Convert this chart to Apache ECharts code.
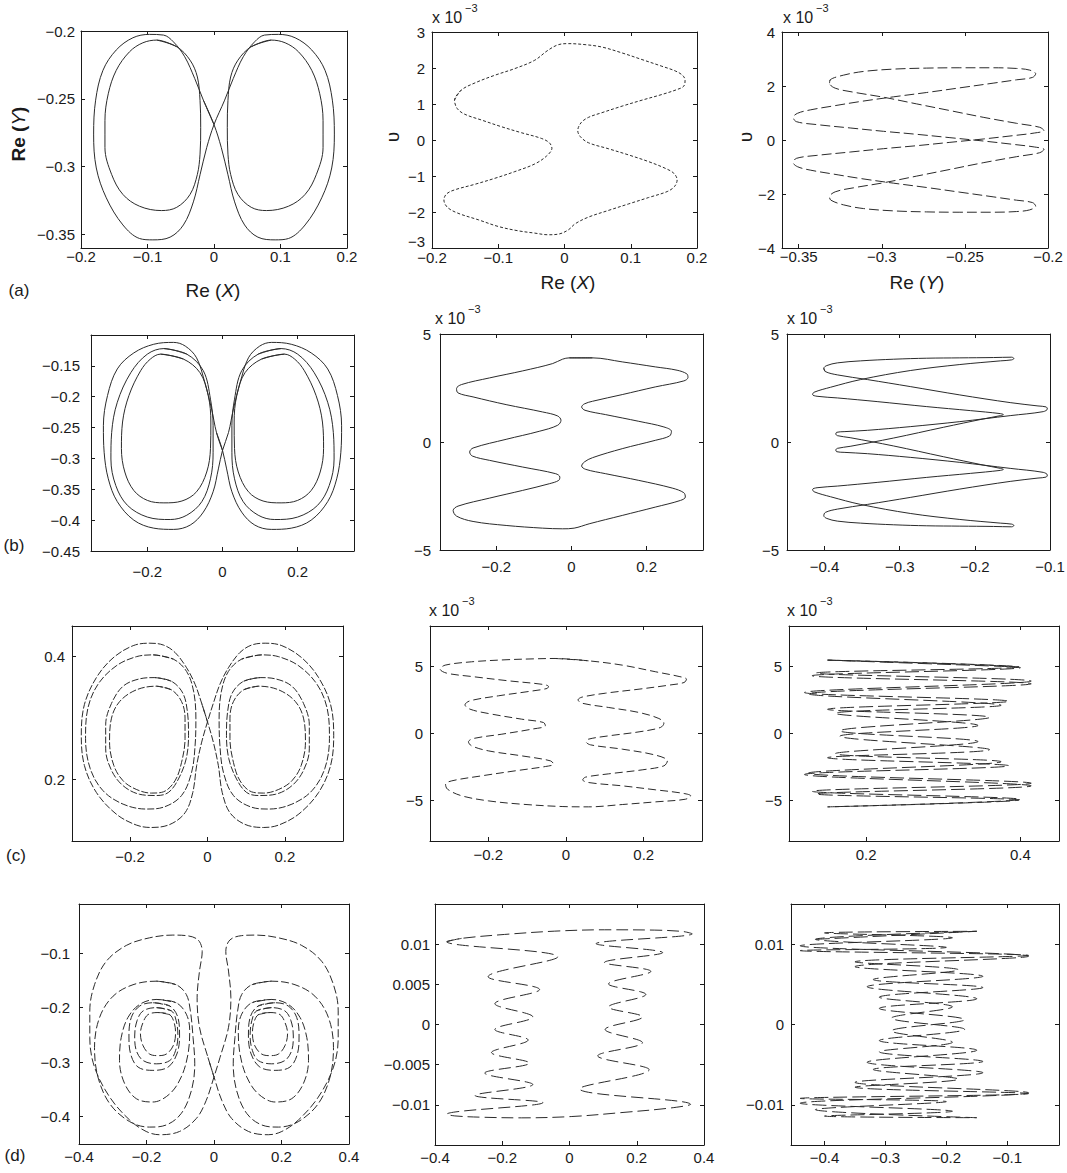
<!DOCTYPE html>
<html>
<head>
<meta charset="utf-8">
<script src="https://cdn.jsdelivr.net/npm/echarts@6/dist/echarts.min.js"></script>
<style>
  html, body { margin: 0; padding: 0; background: #fff; }
  #chart { width: 1067px; height: 1173px; }
</style>
</head>
<body>
<div id="chart"></div>
<script>
// ---------------- axis ranges and ticks ----------------
const a1XRange = [-0.2, 0.2],   a1YRange = [-0.36, -0.2];
const a2XRange = [-0.2, 0.2],   a2YRange = [-3, 3];
const a3XRange = [-0.36, -0.2], a3YRange = [-4, 4];
const b1XRange = [-0.35, 0.35], b1YRange = [-0.45, -0.1];
const b2XRange = [-0.35, 0.35], b2YRange = [-5, 5];
const b3XRange = [-0.45, -0.1], b3YRange = [-5, 5];
const c1XRange = [-0.35, 0.35], c1YRange = [0.1, 0.45];
const c2XRange = [-0.35, 0.35], c2YRange = [-8, 8];
const c3XRange = [0.1, 0.45],   c3YRange = [-8, 8];
const d1XRange = [-0.4, 0.4],   d1YRange = [-0.45, -0.01];
const d2XRange = [-0.4, 0.4],   d2YRange = [-0.015, 0.015];
const d3XRange = [-0.455, -0.015], d3YRange = [-0.015, 0.015];

const a1XTicks = [-0.2, -0.1, 0, 0.1, 0.2],  a1YTicks = [-0.35, -0.3, -0.25, -0.2];
const a2XTicks = [-0.2, -0.1, 0, 0.1, 0.2],  a2YTicks = [-3, -2, -1, 0, 1, 2, 3];
const a3XTicks = [-0.35, -0.3, -0.25, -0.2], a3YTicks = [-4, -2, 0, 2, 4];
const b1XTicks = [-0.2, 0, 0.2], b1YTicks = [-0.45, -0.4, -0.35, -0.3, -0.25, -0.2, -0.15];
const b2XTicks = [-0.2, 0, 0.2], b2YTicks = [-5, 0, 5];
const b3XTicks = [-0.4, -0.3, -0.2, -0.1], b3YTicks = [-5, 0, 5];
const c1XTicks = [-0.2, 0, 0.2], c1YTicks = [0.2, 0.4];
const c2XTicks = [-0.2, 0, 0.2], c2YTicks = [-5, 0, 5];
const c3XTicks = [0.2, 0.4],     c3YTicks = [-5, 0, 5];
const d1XTicks = [-0.4, -0.2, 0, 0.2, 0.4], d1YTicks = [-0.4, -0.3, -0.2, -0.1];
const d2XTicks = [-0.4, -0.2, 0, 0.2, 0.4], d2YTicks = [-0.01, -0.005, 0, 0.005, 0.01];
const d3XTicks = [-0.4, -0.3, -0.2, -0.1],  d3YTicks = [-0.01, 0, 0.01];

// ---------------- (a) trajectories ----------------
const a1Figure8 = [[0,-0.269],[-0.016,-0.251],[-0.029,-0.235],[-0.044,-0.219],[-0.061,-0.208],[-0.076,-0.203],[-0.097,-0.2025],[-0.122,-0.205],[-0.147,-0.214],[-0.167,-0.229],[-0.178,-0.251],[-0.181,-0.276],[-0.177,-0.301],[-0.162,-0.323],[-0.137,-0.343],[-0.112,-0.353],[-0.092,-0.354],[-0.066,-0.352],[-0.046,-0.343],[-0.031,-0.326],[-0.021,-0.306],[-0.011,-0.286],[0,-0.269],
  [0.016,-0.251],[0.029,-0.235],[0.044,-0.219],[0.061,-0.208],[0.076,-0.203],[0.097,-0.2025],[0.122,-0.205],[0.147,-0.214],[0.167,-0.229],[0.178,-0.251],[0.181,-0.276],[0.177,-0.301],[0.162,-0.323],[0.137,-0.343],[0.112,-0.353],[0.092,-0.354],[0.066,-0.352],[0.046,-0.343],[0.031,-0.326],[0.021,-0.306],[0.011,-0.286],[0,-0.269]];
const a1InnerLeft = [[-0.086,-0.2067],[-0.056,-0.2116],[-0.036,-0.2215],[-0.025,-0.2339],[-0.021,-0.2512],[-0.020,-0.271],[-0.021,-0.2908],[-0.025,-0.3057],[-0.036,-0.3205],[-0.056,-0.33],[-0.079,-0.3324],[-0.112,-0.3292],[-0.137,-0.3205],[-0.154,-0.3057],[-0.164,-0.2859],[-0.164,-0.2661],[-0.159,-0.2463],[-0.147,-0.229],[-0.127,-0.2153],[-0.107,-0.2087],[-0.086,-0.2067]];
const a1InnerRight = [[0.086,-0.2067],[0.056,-0.2116],[0.036,-0.2215],[0.025,-0.2339],[0.021,-0.2512],[0.020,-0.271],[0.021,-0.2908],[0.025,-0.3057],[0.036,-0.3205],[0.056,-0.33],[0.079,-0.3324],[0.112,-0.3292],[0.137,-0.3205],[0.154,-0.3057],[0.164,-0.2859],[0.164,-0.2661],[0.159,-0.2463],[0.147,-0.229],[0.127,-0.2153],[0.107,-0.2087],[0.086,-0.2067]];

const a2Orbit = [[-0.166,1.107],[-0.156,1.384],[-0.135,1.587],[-0.105,1.800],[-0.075,1.984],[-0.045,2.215],[-0.025,2.492],[-0.009,2.649],[0.006,2.677],[0.031,2.649],[0.056,2.584],[0.087,2.418],[0.117,2.234],[0.147,2.049],[0.167,1.920],[0.178,1.800],[0.182,1.661],[0.180,1.495],[0.170,1.403],[0.147,1.264],[0.117,1.107],[0.087,0.941],[0.056,0.756],[0.036,0.627],[0.025,0.479],[0.020,0.258],[0.024,0.091],[0.036,-0.075],[0.066,-0.241],[0.097,-0.416],[0.127,-0.601],[0.152,-0.786],[0.165,-0.924],[0.170,-1.109],[0.166,-1.294],[0.155,-1.432],[0.127,-1.598],[0.097,-1.774],[0.066,-1.958],[0.036,-2.143],[0.016,-2.328],[0.006,-2.494],[-0.009,-2.614],[-0.025,-2.632],[-0.045,-2.586],[-0.070,-2.522],[-0.100,-2.402],[-0.130,-2.217],[-0.161,-2.032],[-0.177,-1.866],[-0.182,-1.663],[-0.178,-1.497],[-0.166,-1.386],[-0.135,-1.229],[-0.105,-1.063],[-0.075,-0.878],[-0.045,-0.666],[-0.027,-0.444],[-0.019,-0.232],[-0.023,-0.075],[-0.035,0.045],[-0.065,0.202],[-0.095,0.368],[-0.125,0.553],[-0.151,0.719],[-0.162,0.876],[-0.166,1.107]];

const a3Orbit = [[-0.3314,2.105],[-0.331,2.229],[-0.323,2.402],[-0.311,2.539],[-0.293,2.625],[-0.273,2.663],[-0.253,2.675],[-0.233,2.675],[-0.219,2.650],[-0.211,2.588],[-0.2074,2.452],
  [-0.2094,2.316],[-0.219,2.229],[-0.233,2.105],[-0.253,1.932],[-0.273,1.759],[-0.293,1.598],[-0.313,1.424],[-0.329,1.263],[-0.343,1.115],[-0.3506,0.991],[-0.3532,0.842],
  [-0.3514,0.681],[-0.339,0.570],[-0.319,0.446],[-0.299,0.322],[-0.279,0.211],[-0.259,0.087],[-0.239,-0.037],[-0.221,-0.161],[-0.208,-0.260],[-0.2024,-0.347],
  [-0.205,-0.471],[-0.219,-0.619],[-0.239,-0.842],[-0.259,-1.090],[-0.279,-1.337],[-0.299,-1.585],[-0.317,-1.771],[-0.328,-1.920],[-0.3314,-2.105],
  [-0.3306,-2.229],[-0.323,-2.402],[-0.311,-2.539],[-0.293,-2.625],[-0.273,-2.663],[-0.253,-2.675],[-0.233,-2.675],[-0.219,-2.650],[-0.211,-2.588],[-0.2074,-2.452],
  [-0.2094,-2.316],[-0.219,-2.229],[-0.233,-2.105],[-0.253,-1.932],[-0.273,-1.759],[-0.293,-1.598],[-0.313,-1.424],[-0.329,-1.263],[-0.343,-1.115],[-0.3506,-0.991],[-0.3532,-0.842],
  [-0.3514,-0.681],[-0.339,-0.570],[-0.319,-0.446],[-0.299,-0.322],[-0.279,-0.211],[-0.259,-0.087],[-0.239,0.037],[-0.221,0.161],[-0.208,0.260],[-0.2024,0.347],
  [-0.205,0.471],[-0.219,0.619],[-0.239,0.842],[-0.259,1.090],[-0.279,1.337],[-0.299,1.585],[-0.317,1.771],[-0.328,1.920],[-0.3314,2.105]];

// ---------------- (b) trajectories ----------------
const b1Figure8 = [[0,-0.287],[-0.016,-0.258],[-0.029,-0.220],[-0.047,-0.177],[-0.069,-0.137],[-0.099,-0.118],[-0.130,-0.112],[-0.183,-0.115],[-0.236,-0.129],[-0.280,-0.155],[-0.306,-0.198],[-0.317,-0.247],[-0.315,-0.290],[-0.304,-0.333],[-0.280,-0.370],[-0.236,-0.400],[-0.183,-0.413],[-0.130,-0.415],[-0.086,-0.408],[-0.051,-0.387],[-0.025,-0.354],[-0.011,-0.317],[0,-0.287],
  [0.016,-0.258],[0.029,-0.220],[0.047,-0.177],[0.069,-0.137],[0.099,-0.118],[0.130,-0.112],[0.183,-0.115],[0.236,-0.129],[0.280,-0.155],[0.306,-0.198],[0.317,-0.247],[0.315,-0.290],[0.304,-0.333],[0.280,-0.370],[0.236,-0.400],[0.183,-0.413],[0.130,-0.415],[0.086,-0.408],[0.051,-0.387],[0.025,-0.354],[0.011,-0.317],[0,-0.287]];
const b1MiddleLeft = [[-0.156,-0.122],[-0.095,-0.131],[-0.051,-0.158],[-0.032,-0.204],[-0.025,-0.247],[-0.025,-0.290],[-0.032,-0.333],[-0.055,-0.370],[-0.095,-0.392],[-0.139,-0.399],[-0.200,-0.395],[-0.253,-0.376],[-0.284,-0.344],[-0.297,-0.301],[-0.295,-0.258],[-0.280,-0.209],[-0.244,-0.161],[-0.200,-0.131],[-0.156,-0.122]];
const b1MiddleRight = [[0.156,-0.122],[0.095,-0.131],[0.051,-0.158],[0.032,-0.204],[0.025,-0.247],[0.025,-0.290],[0.032,-0.333],[0.055,-0.370],[0.095,-0.392],[0.139,-0.399],[0.200,-0.395],[0.253,-0.376],[0.284,-0.344],[0.297,-0.301],[0.295,-0.258],[0.280,-0.209],[0.244,-0.161],[0.200,-0.131],[0.156,-0.122]];
const b1InnerLeft = [[-0.165,-0.131],[-0.104,-0.139],[-0.060,-0.161],[-0.038,-0.198],[-0.031,-0.241],[-0.032,-0.284],[-0.042,-0.322],[-0.069,-0.354],[-0.108,-0.369],[-0.156,-0.372],[-0.200,-0.368],[-0.236,-0.352],[-0.260,-0.322],[-0.269,-0.284],[-0.266,-0.241],[-0.249,-0.198],[-0.218,-0.158],[-0.192,-0.139],[-0.165,-0.131]];
const b1InnerRight = [[0.165,-0.131],[0.104,-0.139],[0.060,-0.161],[0.038,-0.198],[0.031,-0.241],[0.032,-0.284],[0.042,-0.322],[0.069,-0.354],[0.108,-0.369],[0.156,-0.372],[0.200,-0.368],[0.236,-0.352],[0.260,-0.322],[0.269,-0.284],[0.266,-0.241],[0.249,-0.198],[0.218,-0.158],[0.192,-0.139],[0.165,-0.131]];

const b2Orbit = [[-0.006,3.895],[0.056,3.895],[0.135,3.709],[0.223,3.478],[0.281,3.323],[0.307,3.153],[0.310,2.983],[0.299,2.828],[0.223,2.550],[0.135,2.195],[0.056,1.886],[0.034,1.762],[0.027,1.623],[0.036,1.468],[0.091,1.267],[0.179,0.958],[0.246,0.696],[0.266,0.495],[0.261,0.278],[0.223,0.077],[0.135,-0.309],[0.056,-0.726],[0.034,-0.927],[0.027,-1.113],[0.038,-1.267],[0.091,-1.468],[0.179,-1.777],[0.268,-2.133],[0.299,-2.349],[0.303,-2.550],[0.290,-2.705],[0.223,-3.014],[0.135,-3.400],[0.047,-3.787],[0.007,-3.988],[-0.024,-4.019],[-0.077,-3.988],[-0.174,-3.864],[-0.262,-3.679],[-0.306,-3.431],[-0.315,-3.168],[-0.302,-2.968],[-0.218,-2.597],[-0.130,-2.241],[-0.059,-1.932],[-0.034,-1.777],[-0.031,-1.623],[-0.042,-1.468],[-0.130,-1.159],[-0.218,-0.850],[-0.264,-0.649],[-0.271,-0.464],[-0.262,-0.278],[-0.174,0.124],[-0.086,0.495],[-0.037,0.773],[-0.028,1.005],[-0.037,1.206],[-0.077,1.391],[-0.174,1.731],[-0.262,2.087],[-0.302,2.272],[-0.306,2.473],[-0.293,2.658],[-0.218,2.968],[-0.130,3.292],[-0.050,3.632],[-0.024,3.833],[-0.006,3.895]];

const b3Orbit = [[-0.401,3.416],[-0.399,3.261],[-0.383,3.107],[-0.343,2.890],[-0.286,2.566],[-0.220,2.179],[-0.153,1.824],[-0.116,1.669],[-0.105,1.623],[-0.1035,1.530],
  [-0.109,1.406],[-0.153,1.221],[-0.220,0.943],[-0.286,0.711],[-0.343,0.541],[-0.374,0.479],[-0.384,0.448],[-0.385,0.371],
  [-0.383,0.294],[-0.366,0.201],[-0.308,-0.185],[-0.242,-0.680],[-0.189,-1.066],[-0.166,-1.221],[-0.162,-1.267],
  [-0.166,-1.314],[-0.206,-1.453],[-0.264,-1.638],[-0.330,-1.870],[-0.383,-2.040],[-0.410,-2.117],[-0.416,-2.195],
  [-0.414,-2.303],[-0.392,-2.535],[-0.352,-2.890],[-0.286,-3.308],[-0.220,-3.586],[-0.166,-3.756],[-0.151,-3.802],[-0.148,-3.864],
  [-0.151,-3.926],[-0.175,-3.910],[-0.220,-3.895],[-0.264,-3.879],[-0.308,-3.833],[-0.352,-3.756],[-0.383,-3.663],[-0.397,-3.539],[-0.401,-3.416],
  [-0.399,-3.261],[-0.383,-3.107],[-0.343,-2.890],[-0.286,-2.566],[-0.220,-2.179],[-0.153,-1.824],[-0.116,-1.669],[-0.105,-1.623],[-0.1035,-1.530],
  [-0.109,-1.406],[-0.153,-1.221],[-0.220,-0.943],[-0.286,-0.711],[-0.343,-0.541],[-0.374,-0.479],[-0.384,-0.448],[-0.385,-0.371],
  [-0.383,-0.294],[-0.366,-0.201],[-0.308,0.185],[-0.242,0.680],[-0.189,1.066],[-0.166,1.221],[-0.162,1.267],
  [-0.166,1.314],[-0.206,1.453],[-0.264,1.638],[-0.330,1.870],[-0.383,2.040],[-0.410,2.117],[-0.416,2.195],
  [-0.414,2.303],[-0.392,2.535],[-0.352,2.890],[-0.286,3.308],[-0.220,3.586],[-0.166,3.756],[-0.151,3.802],[-0.148,3.864],
  [-0.151,3.926],[-0.175,3.910],[-0.220,3.895],[-0.264,3.879],[-0.308,3.833],[-0.352,3.756],[-0.383,3.663],[-0.397,3.539],[-0.401,3.416]];

// ---------------- (c) trajectories ----------------
const c1Figure8 = [[0,0.294],[-0.015,0.324],[-0.032,0.355],[-0.054,0.382],[-0.084,0.407],[-0.114,0.419],[-0.149,0.422],[-0.192,0.418],[-0.244,0.398],[-0.287,0.366],[-0.318,0.322],[-0.326,0.272],[-0.318,0.223],[-0.287,0.179],[-0.236,0.144],[-0.184,0.126],[-0.145,0.122],[-0.097,0.127],[-0.058,0.146],[-0.038,0.179],[-0.028,0.223],[-0.015,0.261],[0,0.294],
  [0.015,0.324],[0.032,0.355],[0.054,0.382],[0.084,0.407],[0.114,0.419],[0.149,0.422],[0.192,0.418],[0.244,0.398],[0.287,0.366],[0.318,0.322],[0.326,0.272],[0.318,0.223],[0.287,0.179],[0.236,0.144],[0.184,0.126],[0.145,0.122],[0.097,0.127],[0.058,0.146],[0.038,0.179],[0.028,0.223],[0.015,0.261],[0,0.294]];
const c1LoopBLeft = [[-0.140,0.403],[-0.088,0.396],[-0.054,0.376],[-0.036,0.344],[-0.030,0.300],[-0.032,0.256],[-0.041,0.212],[-0.067,0.174],[-0.114,0.155],[-0.158,0.152],[-0.218,0.160],[-0.270,0.182],[-0.303,0.218],[-0.315,0.267],[-0.309,0.316],[-0.283,0.355],[-0.236,0.385],[-0.184,0.400],[-0.140,0.403]];
const c1LoopBRight = [[0.140,0.403],[0.088,0.396],[0.054,0.376],[0.036,0.344],[0.030,0.300],[0.032,0.256],[0.041,0.212],[0.067,0.174],[0.114,0.155],[0.158,0.152],[0.218,0.160],[0.270,0.182],[0.303,0.218],[0.315,0.267],[0.309,0.316],[0.283,0.355],[0.236,0.385],[0.184,0.400],[0.140,0.403]];
const c1LoopCLeft = [[-0.136,0.366],[-0.093,0.360],[-0.064,0.341],[-0.052,0.311],[-0.049,0.272],[-0.055,0.234],[-0.075,0.201],[-0.101,0.179],[-0.132,0.174],[-0.175,0.176],[-0.218,0.190],[-0.248,0.215],[-0.263,0.250],[-0.263,0.289],[-0.248,0.324],[-0.218,0.352],[-0.175,0.364],[-0.136,0.366]];
const c1LoopCRight = [[0.136,0.366],[0.093,0.360],[0.064,0.341],[0.052,0.311],[0.049,0.272],[0.055,0.234],[0.075,0.201],[0.101,0.179],[0.132,0.174],[0.175,0.176],[0.218,0.190],[0.248,0.215],[0.263,0.250],[0.263,0.289],[0.248,0.324],[0.218,0.352],[0.175,0.364],[0.136,0.366]];
const c1LoopDLeft = [[-0.132,0.352],[-0.093,0.346],[-0.067,0.327],[-0.058,0.300],[-0.058,0.267],[-0.067,0.228],[-0.084,0.198],[-0.114,0.180],[-0.145,0.178],[-0.184,0.184],[-0.218,0.198],[-0.242,0.223],[-0.253,0.261],[-0.248,0.300],[-0.227,0.327],[-0.184,0.346],[-0.132,0.352]];
const c1LoopDRight = [[0.132,0.352],[0.093,0.346],[0.067,0.327],[0.058,0.300],[0.058,0.267],[0.067,0.228],[0.084,0.198],[0.114,0.180],[0.145,0.178],[0.184,0.184],[0.218,0.198],[0.242,0.223],[0.253,0.261],[0.248,0.300],[0.227,0.327],[0.184,0.346],[0.132,0.352]];

const c2Orbit = [[-0.028,5.583],[0.058,5.409],[0.145,5.087],[0.231,4.591],[0.291,4.243],[0.310,4.045],[0.304,3.797],[0.265,3.598],[0.188,3.300],[0.102,3.002],[0.041,2.705],[0.031,2.506],[0.041,2.258],[0.110,1.935],[0.188,1.563],[0.239,1.117],[0.252,0.769],[0.243,0.447],[0.188,0.124],[0.110,-0.174],[0.058,-0.422],[0.052,-0.620],[0.063,-0.844],[0.145,-1.166],[0.231,-1.613],[0.261,-2.035],[0.252,-2.407],[0.196,-2.705],[0.110,-3.002],[0.050,-3.251],[0.043,-3.449],[0.058,-3.648],[0.145,-3.896],[0.231,-4.194],[0.299,-4.442],[0.321,-4.640],[0.308,-4.888],[0.231,-5.087],[0.145,-5.285],[0.058,-5.459],[-0.010,-5.434],[-0.114,-5.261],[-0.200,-5.012],[-0.268,-4.640],[-0.305,-4.144],[-0.310,-3.772],[-0.294,-3.524],[-0.217,-3.151],[-0.131,-2.779],[-0.053,-2.457],[-0.032,-2.283],[-0.040,-2.035],[-0.114,-1.663],[-0.200,-1.290],[-0.243,-0.918],[-0.251,-0.620],[-0.238,-0.372],[-0.165,-0.050],[-0.088,0.323],[-0.053,0.571],[-0.058,0.819],[-0.114,1.067],[-0.200,1.489],[-0.247,1.811],[-0.260,2.134],[-0.247,2.432],[-0.174,2.804],[-0.096,3.127],[-0.049,3.350],[-0.045,3.499],[-0.058,3.648],[-0.148,3.921],[-0.243,4.243],[-0.307,4.491],[-0.324,4.789],[-0.311,5.087],[-0.243,5.335],[-0.157,5.484],[-0.079,5.558],[-0.028,5.583]];

// turning points of Re(Y) against v, one full period
const c3Orbit = [[0.150,5.46],[0.398,4.95],[0.135,4.50],[0.414,3.90],[0.120,3.05],[0.385,2.40],[0.150,1.80],[0.360,1.20],[0.166,0.20],[0.345,-0.60],[0.160,-1.50],[0.375,-2.10],[0.125,-2.95],[0.414,-3.70],[0.130,-4.30],[0.400,-4.90],
  [0.150,-5.46],[0.398,-4.95],[0.135,-4.50],[0.414,-3.90],[0.120,-3.05],[0.385,-2.40],[0.150,-1.80],[0.360,-1.20],[0.166,-0.20],[0.345,0.60],[0.160,1.50],[0.375,2.10],[0.125,2.95],[0.414,3.70],[0.130,4.30],[0.400,4.90],[0.150,5.46]];

// ---------------- (d) trajectories ----------------
const d1Figure8 = [[0,-0.327],[-0.018,-0.291],[-0.043,-0.236],[-0.050,-0.182],[-0.043,-0.133],[-0.035,-0.097],[-0.047,-0.076],[-0.082,-0.068],[-0.122,-0.067],[-0.191,-0.072],[-0.260,-0.086],[-0.319,-0.115],[-0.354,-0.158],[-0.368,-0.206],[-0.368,-0.255],[-0.354,-0.309],[-0.309,-0.364],[-0.250,-0.406],[-0.201,-0.427],[-0.161,-0.433],[-0.102,-0.427],[-0.052,-0.403],[-0.023,-0.370],[0,-0.327],
  [0.018,-0.291],[0.043,-0.236],[0.050,-0.182],[0.043,-0.133],[0.035,-0.097],[0.047,-0.076],[0.082,-0.068],[0.122,-0.067],[0.191,-0.072],[0.260,-0.086],[0.319,-0.115],[0.354,-0.158],[0.368,-0.206],[0.368,-0.255],[0.354,-0.309],[0.309,-0.364],[0.250,-0.406],[0.201,-0.427],[0.161,-0.433],[0.102,-0.427],[0.052,-0.403],[0.023,-0.370],[0,-0.327]];
const d1LoopBLeft = [[-0.171,-0.1515],[-0.112,-0.158],[-0.082,-0.176],[-0.070,-0.206],[-0.062,-0.255],[-0.057,-0.303],[-0.067,-0.352],[-0.097,-0.394],[-0.141,-0.415],[-0.191,-0.419],[-0.250,-0.409],[-0.309,-0.376],[-0.344,-0.327],[-0.354,-0.273],[-0.339,-0.218],[-0.299,-0.179],[-0.240,-0.158],[-0.171,-0.1515]];
const d1LoopBRight = [[0.171,-0.1515],[0.112,-0.158],[0.082,-0.176],[0.070,-0.206],[0.062,-0.255],[0.057,-0.303],[0.067,-0.352],[0.097,-0.394],[0.141,-0.415],[0.191,-0.419],[0.250,-0.409],[0.309,-0.376],[0.344,-0.327],[0.354,-0.273],[0.339,-0.218],[0.299,-0.179],[0.240,-0.158],[0.171,-0.1515]];
const d1LoopCLeft = [[-0.171,-0.185],[-0.112,-0.191],[-0.082,-0.212],[-0.072,-0.242],[-0.077,-0.285],[-0.097,-0.327],[-0.131,-0.358],[-0.181,-0.373],[-0.230,-0.367],[-0.265,-0.339],[-0.280,-0.297],[-0.275,-0.255],[-0.255,-0.218],[-0.220,-0.194],[-0.171,-0.185]];
const d1LoopCRight = [[0.171,-0.185],[0.112,-0.191],[0.082,-0.212],[0.072,-0.242],[0.077,-0.285],[0.097,-0.327],[0.131,-0.358],[0.181,-0.373],[0.230,-0.367],[0.265,-0.339],[0.280,-0.297],[0.275,-0.255],[0.255,-0.218],[0.220,-0.194],[0.171,-0.185]];
const d1LoopDLeft = [[-0.171,-0.200],[-0.126,-0.206],[-0.112,-0.224],[-0.107,-0.252],[-0.114,-0.279],[-0.131,-0.297],[-0.171,-0.303],[-0.210,-0.297],[-0.230,-0.279],[-0.235,-0.252],[-0.228,-0.224],[-0.210,-0.206],[-0.171,-0.200]];
const d1LoopDRight = [[0.171,-0.200],[0.126,-0.206],[0.112,-0.224],[0.107,-0.252],[0.114,-0.279],[0.131,-0.297],[0.171,-0.303],[0.210,-0.297],[0.230,-0.279],[0.235,-0.252],[0.228,-0.224],[0.210,-0.206],[0.171,-0.200]];
const d1LoopELeft = [[-0.181,-0.191],[-0.131,-0.197],[-0.107,-0.218],[-0.102,-0.252],[-0.110,-0.285],[-0.136,-0.309],[-0.181,-0.315],[-0.225,-0.309],[-0.247,-0.285],[-0.252,-0.252],[-0.245,-0.218],[-0.220,-0.197],[-0.181,-0.191]];
const d1LoopERight = [[0.181,-0.191],[0.131,-0.197],[0.107,-0.218],[0.102,-0.252],[0.110,-0.285],[0.136,-0.309],[0.181,-0.315],[0.225,-0.309],[0.247,-0.285],[0.252,-0.252],[0.245,-0.218],[0.220,-0.197],[0.181,-0.191]];
const d1LoopFLeft = [[-0.166,-0.209],[-0.131,-0.213],[-0.117,-0.230],[-0.114,-0.248],[-0.121,-0.270],[-0.141,-0.285],[-0.166,-0.288],[-0.191,-0.285],[-0.210,-0.270],[-0.218,-0.248],[-0.212,-0.230],[-0.196,-0.213],[-0.166,-0.209]];
const d1LoopFRight = [[0.166,-0.209],[0.131,-0.213],[0.117,-0.230],[0.114,-0.248],[0.121,-0.270],[0.141,-0.285],[0.166,-0.288],[0.191,-0.285],[0.210,-0.270],[0.218,-0.248],[0.212,-0.230],[0.196,-0.213],[0.166,-0.209]];

const d2Orbit = [[-0.365,0.01031],[-0.321,0.01072],[-0.193,0.01121],[-0.044,0.01162],[0.104,0.01179],[0.252,0.01175],[0.336,0.01158],[0.365,0.01129],[0.079,0.01006],[0.277,0.00895],[0.104,0.00772],[0.242,0.00661],[0.116,0.00505],[0.227,0.00374],[0.116,0.00218],[0.217,0.00094],[0.106,-0.00062],[0.217,-0.00226],[0.084,-0.00390],[0.237,-0.00563],[0.030,-0.00801],[0.360,-0.00994],[0.301,-0.01039],[0.153,-0.01097],[0.005,-0.01146],[-0.143,-0.01162],[-0.262,-0.01154],[-0.341,-0.01138],[-0.365,-0.01117],[-0.079,-0.00973],[-0.281,-0.00883],[-0.109,-0.00747],[-0.252,-0.00604],[-0.119,-0.00480],[-0.232,-0.00349],[-0.123,-0.00193],[-0.222,-0.00062],[-0.109,0.00094],[-0.222,0.00259],[-0.089,0.00435],[-0.242,0.00595],[-0.035,0.00842],[-0.365,0.01031]];

// turning points of Re(Y) against v, one full period
const d3Orbit = [[-0.150,0.01160],[-0.415,0.01060],[-0.200,0.00960],[-0.440,0.00920],[-0.065,0.00860],[-0.350,0.00780],[-0.180,0.00680],[-0.320,0.00560],[-0.140,0.00460],[-0.310,0.00340],[-0.190,0.00220],[-0.290,0.00080],[-0.170,-0.00060],[-0.310,-0.00200],[-0.150,-0.00320],[-0.330,-0.00470],[-0.140,-0.00600],[-0.350,-0.00720],[-0.065,-0.00850],[-0.440,-0.00980],[-0.190,-0.01080],[-0.400,-0.01140],
  [-0.150,-0.01160],[-0.415,-0.01060],[-0.200,-0.00960],[-0.440,-0.00920],[-0.065,-0.00860],[-0.350,-0.00780],[-0.180,-0.00680],[-0.320,-0.00560],[-0.140,-0.00460],[-0.310,-0.00340],[-0.190,-0.00220],[-0.290,-0.00080],[-0.170,0.00060],[-0.310,0.00200],[-0.150,0.00320],[-0.330,0.00470],[-0.140,0.00600],[-0.350,0.00720],[-0.065,0.00850],[-0.440,0.00980],[-0.190,0.01080],[-0.400,0.01140],[-0.150,0.01160]];

// ---------------- layout ----------------
const FONT = '"Liberation Sans", Arial, Helvetica, sans-serif';
const INK = '#1a1a1a';
const panels = [
  { box: [81, 31, 266, 217],  xr: a1XRange, yr: a1YRange, xt: a1XTicks, yt: a1YTicks, xm: 1,  ym: 6,  dash: 'solid',  curves: [a1Figure8, a1InnerLeft, a1InnerRight] },
  { box: [432, 32, 265, 216], xr: a2XRange, yr: a2YRange, xt: a2XTicks, yt: a2YTicks, xm: 2,  ym: 7,  dash: [3, 2],   liftMin: true, curves: [a2Orbit] },
  { box: [782, 32, 266, 216], xr: a3XRange, yr: a3YRange, xt: a3XTicks, yt: a3YTicks, xm: 1,  ym: 7,  dash: [10, 4],  curves: [a3Orbit] },
  { box: [91, 335, 263, 216], xr: b1XRange, yr: b1YRange, xt: b1XTicks, yt: b1YTicks, xm: 13, ym: 11, dash: 'solid',  curves: [b1Figure8, b1MiddleLeft, b1MiddleRight, b1InnerLeft, b1InnerRight] },
  { box: [440, 334, 263, 216],xr: b2XRange, yr: b2YRange, xt: b2XTicks, yt: b2YTicks, xm: 9,  ym: 9,  dash: 'solid',  curves: [b2Orbit] },
  { box: [787, 334, 263, 216],xr: b3XRange, yr: b3YRange, xt: b3XTicks, yt: b3YTicks, xm: 9,  ym: 8,  dash: 'solid',  curves: [b3Orbit] },
  { box: [72, 626, 271, 215], xr: c1XRange, yr: c1YRange, xt: c1XTicks, yt: c1YTicks, xm: 8,  ym: 7,  dash: [7, 2],   curves: [c1Figure8, c1LoopBLeft, c1LoopBRight, c1LoopCLeft, c1LoopCRight, c1LoopDLeft, c1LoopDRight] },
  { box: [430, 626, 272, 215],xr: c2XRange, yr: c2YRange, xt: c2XTicks, yt: c2YTicks, xm: 6,  ym: 7,  dash: [8, 4],   curves: [c2Orbit] },
  { box: [789, 626, 270, 215],xr: c3XRange, yr: c3YRange, xt: c3XTicks, yt: c3YTicks, xm: 6,  ym: 7,  dash: [14, 5],  curves: [c3Orbit] },
  { box: [79, 904, 270, 240], xr: d1XRange, yr: d1YRange, xt: d1XTicks, yt: d1YTicks, xm: 5,  ym: 9,  dash: [8, 3],   curves: [d1Figure8, d1LoopBLeft, d1LoopBRight, d1LoopCLeft, d1LoopCRight, d1LoopDLeft, d1LoopDRight, d1LoopELeft, d1LoopERight, d1LoopFLeft, d1LoopFRight] },
  { box: [435, 904, 269, 241],xr: d2XRange, yr: d2YRange, xt: d2XTicks, yt: d2YTicks, xm: 5,  ym: 5,  dash: [12, 5],  curves: [d2Orbit] },
  { box: [791, 904, 268, 241],xr: d3XRange, yr: d3YRange, xt: d3XTicks, yt: d3YTicks, xm: 5,  ym: 7,  dash: [14, 5],  curves: [d3Orbit] }
];

function fmt(v) {
  const s = String(parseFloat(Number(v).toFixed(4)));
  return s.replace('-', '\u2212');
}
// repeat the second vertex so a closed smooth path joins without a kink
function closed(a) { return a.concat([a[1]]); }

const grids = [], xAxes = [], yAxes = [], series = [];
panels.forEach((p, i) => {
  grids.push({ left: p.box[0], top: p.box[1], width: p.box[2], height: p.box[3],
               containLabel: false, outerBoundsMode: 'none', show: false });
  const axisLine = { show: true, onZero: false, lineStyle: { color: INK, width: 1 } };
  const tick = vals => ({ show: true, inside: true, length: 4, customValues: vals, lineStyle: { color: INK, width: 1 } });
  const label = (vals, m, fmtFn) => ({ show: true, customValues: vals, margin: m, formatter: fmtFn || fmt,
                                       color: INK, fontSize: 15, fontFamily: FONT,
                                       rich: { lift: { fontSize: 15, fontFamily: FONT, color: INK, padding: [0, 0, 14, 0] } } });
  // the lowest y label sits a little higher so it clears the x labels below it
  const yFmt = p.liftMin ? (v => (Math.abs(v - p.yr[0]) < 1e-9 ? '{lift|' + fmt(v) + '}' : fmt(v))) : fmt;
  xAxes.push({ type: 'value', gridIndex: i, min: p.xr[0], max: p.xr[1], position: 'bottom',
               axisLine, axisTick: tick(p.xt), axisLabel: label(p.xt, p.xm), splitLine: { show: false } });
  xAxes.push({ type: 'value', gridIndex: i, min: p.xr[0], max: p.xr[1], position: 'top',
               axisLine, axisTick: tick(p.xt), axisLabel: { show: false }, splitLine: { show: false } });
  yAxes.push({ type: 'value', gridIndex: i, min: p.yr[0], max: p.yr[1], position: 'left',
               axisLine, axisTick: tick(p.yt), axisLabel: label(p.yt, p.ym, yFmt), splitLine: { show: false } });
  yAxes.push({ type: 'value', gridIndex: i, min: p.yr[0], max: p.yr[1], position: 'right',
               axisLine, axisTick: tick(p.yt), axisLabel: { show: false }, splitLine: { show: false } });
  p.curves.forEach(c => {
    series.push({ type: 'line', xAxisIndex: 2 * i, yAxisIndex: 2 * i, data: closed(c),
                  showSymbol: false, symbol: 'none', smooth: 0.35, silent: true, animation: false,
                  lineStyle: { color: '#2b2b2b', width: 1, type: p.dash } });
  });
});

// ---------------- text ----------------
function txt(text, x, y, size, extra) {
  return Object.assign({
    type: 'text', x, y, silent: true,
    style: Object.assign({ text, fontSize: size, fontFamily: FONT, fill: INK,
                           align: 'center', verticalAlign: 'middle',
                           rich: { i: { fontStyle: 'italic', fontSize: size, fontFamily: FONT, fill: INK } } },
                         extra && extra.style)
  }, extra && extra.el);
}
const up = { el: { rotation: Math.PI / 2 } };
const graphics = [
  txt('Re ({i|X})', 213, 290, 19),
  txt('Re ({i|X})', 568, 282, 19),
  txt('Re ({i|Y})', 917, 282, 19),
  txt('Re ({i|Y})', 18, 134, 19, { el: { rotation: Math.PI / 2 }, style: { fontWeight: 'bold' } }),
  txt('\u03c5', 392, 137, 19, up),
  txt('\u03c5', 745, 137, 19, up),
  txt('(a)', 19, 290, 17),
  txt('(b)', 14, 545, 17),
  txt('(c)', 16, 855, 17),
  txt('(d)', 15, 1155, 17)
];
// exponent markers "x 10^-3"
const expoSpots = [[432, 17], [783, 17], [435, 318], [787, 318], [429, 610], [787, 610]];
expoSpots.forEach(([x, y]) => {
  graphics.push(txt('x 10', x, y, 16, { style: { align: 'left' } }));
  graphics.push(txt('\u22123', x + 33, y - 9, 11, { style: { align: 'left' } }));
});

const chart = echarts.init(document.getElementById('chart'), null, { renderer: 'svg' });
chart.setOption({
  backgroundColor: '#ffffff',
  animation: false,
  grid: grids,
  xAxis: xAxes,
  yAxis: yAxes,
  series,
  graphic: graphics
});
</script>
</body>
</html>
